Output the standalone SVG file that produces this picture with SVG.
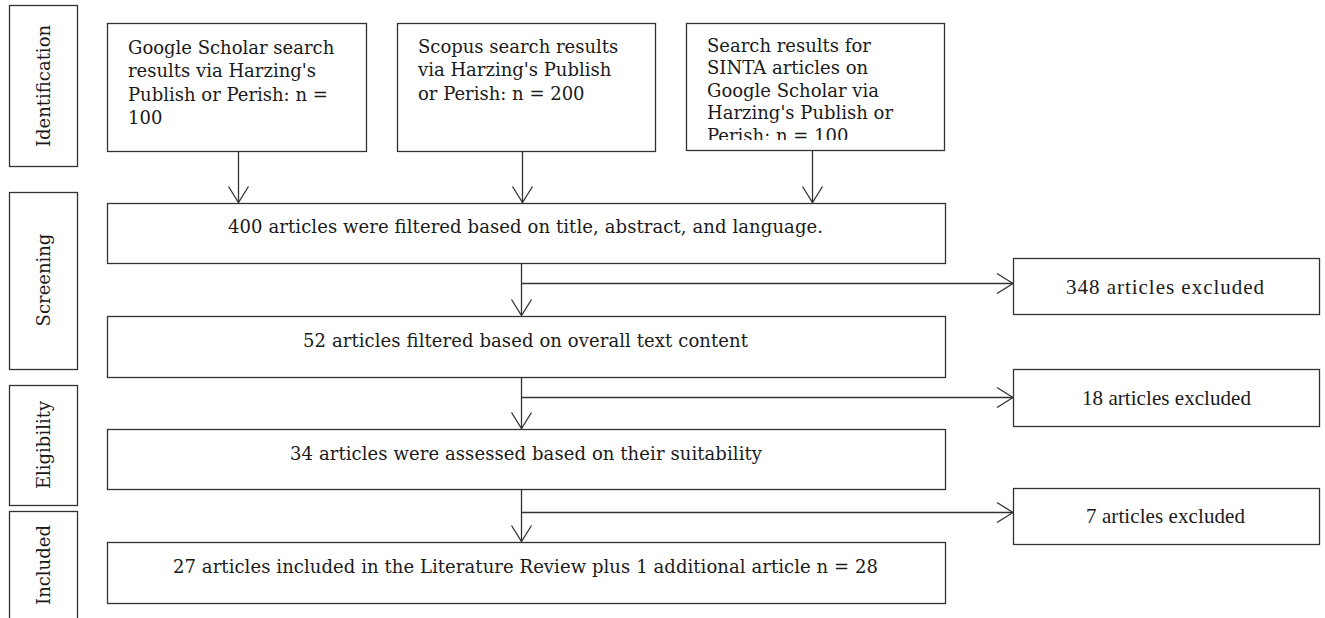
<svg xmlns="http://www.w3.org/2000/svg" width="1325" height="618" viewBox="0 0 1325 618">
<style>
  .box { fill: #ffffff; stroke: #333333; stroke-width: 1.3; }
  .lbl { font-family: "DejaVu Serif", "Liberation Serif", serif; font-size: 18px; fill: #1a1a1a; }
  .lbl-c { font-family: "DejaVu Serif", "Liberation Serif", serif; font-size: 18px; fill: #1a1a1a; text-anchor: middle; }
  .ex { font-family: "Liberation Serif", "Times New Roman", serif; font-size: 21px; fill: #1a1a1a; text-anchor: middle; }
  .stage { font-family: "DejaVu Serif", "Liberation Serif", serif; font-size: 18px; fill: #1a1a1a; text-anchor: middle; }
  .conn { fill: none; stroke: #333333; stroke-width: 1.3; }
</style>
<defs>
  <marker id="vee" markerUnits="userSpaceOnUse" markerWidth="20" markerHeight="24" viewBox="-18 -12 20 24" refX="0" refY="0" orient="auto">
    <path d="M -16 -10 L 0 0 L -16 10" fill="none" stroke="#333333" stroke-width="1.3"/>
  </marker>
  <clipPath id="clipSinta">
    <rect x="686" y="23" width="258" height="117"/>
  </clipPath>
</defs>
<rect x="0" y="0" width="1325" height="618" fill="#ffffff"/>

<!-- stage labels -->
<g id="stage-identification">
  <rect class="box" x="9.5" y="5.5" width="68" height="161"/>
  <text class="stage" transform="translate(50,86) rotate(-90)">Identification</text>
</g>
<g id="stage-screening">
  <rect class="box" x="9.5" y="192.5" width="68" height="177"/>
  <text class="stage" transform="translate(50,280) rotate(-90)">Screening</text>
</g>
<g id="stage-eligibility">
  <rect class="box" x="9.5" y="385.5" width="68" height="120"/>
  <text class="stage" transform="translate(50,445) rotate(-90)">Eligibility</text>
</g>
<g id="stage-included">
  <rect class="box" x="9.5" y="511.5" width="68" height="115"/>
  <text class="stage" transform="translate(50,565) rotate(-90)">Included</text>
</g>

<!-- connectors -->
<g id="connectors">
  <line class="conn" x1="238.5" y1="151" x2="238.5" y2="202.5" marker-end="url(#vee)"/>
  <line class="conn" x1="522.5" y1="151" x2="522.5" y2="202.5" marker-end="url(#vee)"/>
  <line class="conn" x1="812.5" y1="150" x2="812.5" y2="202.5" marker-end="url(#vee)"/>
  <line class="conn" x1="521.5" y1="263" x2="521.5" y2="315.5" marker-end="url(#vee)"/>
  <line class="conn" x1="521.5" y1="283.5" x2="1013" y2="283.5" marker-end="url(#vee)"/>
  <line class="conn" x1="521.5" y1="377" x2="521.5" y2="428.5" marker-end="url(#vee)"/>
  <line class="conn" x1="521.5" y1="397.5" x2="1013" y2="397.5" marker-end="url(#vee)"/>
  <line class="conn" x1="521.5" y1="489" x2="521.5" y2="541.5" marker-end="url(#vee)"/>
  <line class="conn" x1="521.5" y1="512.5" x2="1013" y2="512.5" marker-end="url(#vee)"/>
</g>

<!-- identification sources -->
<g id="node-google">
  <rect class="box" x="107.5" y="23.5" width="259" height="128"/>
  <text class="lbl" x="128" y="54">Google Scholar search</text>
  <text class="lbl" x="128" y="77">results via Harzing's</text>
  <text class="lbl" x="128" y="101">Publish or Perish: n =</text>
  <text class="lbl" x="128" y="124">100</text>
</g>
<g id="node-scopus">
  <rect class="box" x="397.5" y="23.5" width="258" height="128"/>
  <text class="lbl" x="418" y="53">Scopus search results</text>
  <text class="lbl" x="418" y="76">via Harzing's Publish</text>
  <text class="lbl" x="418" y="100">or Perish: n = 200</text>
</g>
<g id="node-sinta">
  <rect class="box" x="686.5" y="23.5" width="258" height="127"/>
  <g clip-path="url(#clipSinta)">
    <text class="lbl" x="707" y="52">Search results for</text>
    <text class="lbl" x="707" y="74">SINTA articles on</text>
    <text class="lbl" x="707" y="97">Google Scholar via</text>
    <text class="lbl" x="707" y="119">Harzing's Publish or</text>
    <text class="lbl" x="707" y="142">Perish: n = 100</text>
  </g>
</g>

<!-- main flow -->
<g id="node-400">
  <rect class="box" x="107.5" y="203.5" width="838" height="60"/>
  <text class="lbl-c" x="525.5" y="233" textLength="595">400 articles were filtered based on title, abstract, and language.</text>
</g>
<g id="node-52">
  <rect class="box" x="107.5" y="316.5" width="838" height="61"/>
  <text class="lbl-c" x="525.5" y="347" textLength="445">52 articles filtered based on overall text content</text>
</g>
<g id="node-34">
  <rect class="box" x="107.5" y="429.5" width="838" height="60"/>
  <text class="lbl-c" x="526" y="460" textLength="472">34 articles were assessed based on their suitability</text>
</g>
<g id="node-27">
  <rect class="box" x="107.5" y="542.5" width="838" height="61"/>
  <text class="lbl-c" x="525.5" y="573" textLength="705">27 articles included in the Literature Review plus 1 additional article n = 28</text>
</g>

<!-- exclusions -->
<g id="node-ex348">
  <rect class="box" x="1013.5" y="258.5" width="306" height="56"/>
  <text class="ex" x="1165" y="294" font-size="23" textLength="198">348 articles excluded</text>
</g>
<g id="node-ex18">
  <rect class="box" x="1013.5" y="369.5" width="306" height="57"/>
  <text class="ex" x="1166.5" y="405" textLength="169">18 articles excluded</text>
</g>
<g id="node-ex7">
  <rect class="box" x="1013.5" y="488.5" width="306" height="56"/>
  <text class="ex" x="1165.5" y="523" textLength="159">7 articles excluded</text>
</g>
</svg>
